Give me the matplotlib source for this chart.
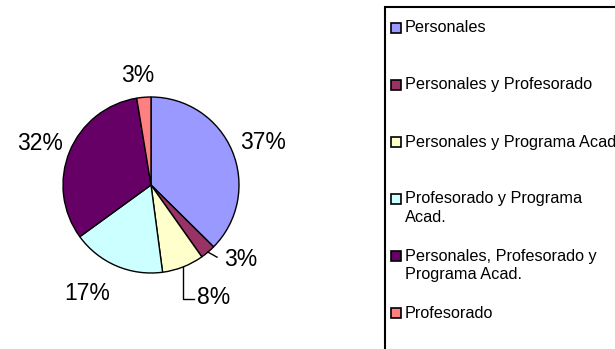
import numpy as np
import matplotlib.pyplot as plt
from matplotlib.patches import Rectangle

plt.rcParams['font.family'] = ['Liberation Sans', 'DejaVu Sans']

categorias = ['Personales', 'Personales y Profesorado', 'Personales y Programa Acad.',
              'Profesorado y Programa Acad.', 'Personales, Profesorado y Programa Acad.',
              'Profesorado']
# texto de la leyenda, con los saltos de linea de Excel
leyenda = ['Personales', 'Personales y Profesorado', 'Personales y Programa Acad.',
           'Profesorado y Programa\nAcad.', 'Personales, Profesorado y\nPrograma Acad.',
           'Profesorado']
porcentajes = [37.4, 2.8, 7.7, 17.1, 32.4, 2.6]
colores = ['#9999FF', '#993366', '#FFFFCC', '#CCFFFF', '#660066', '#FF8080']

W, H = 615, 349
fig = plt.figure(figsize=(W / 100, H / 100), dpi=100)
ax = fig.add_axes([0, 0, 1, 1])

wedges, _ = ax.pie(porcentajes, colors=colores, startangle=90, counterclock=False,
                   radius=1.0, wedgeprops=dict(edgecolor='black', linewidth=1.0))

# radio 88 px, centro en (151, 185) px
R = 88.0
cx, cy = 151.0, 185.0
ax.set_xlim(-cx / R, (W - cx) / R)
ax.set_ylim(-(H - cy) / R, cy / R)
ax.set_aspect('equal')
ax.axis('off')

etiquetas = ['%d%%' % round(v) for v in porcentajes]
fs = 16.5

# posiciones de las etiquetas (centradas)
ax.text(1.27, 0.48, etiquetas[0], fontsize=fs, ha='center', va='center')
ax.text(-0.72, -1.23, etiquetas[3], fontsize=fs, ha='center', va='center')
ax.text(-1.26, 0.47, etiquetas[4], fontsize=fs, ha='center', va='center')
ax.text(-0.15, 1.25, etiquetas[5], fontsize=fs, ha='center', va='center')

# etiquetas con linea guia para las porciones pequeñas
def medio(w):
    return np.deg2rad((w.theta1 + w.theta2) / 2)

a = medio(wedges[1])
ax.plot([np.cos(a), 0.75], [np.sin(a), -0.82], color='black', lw=1)
ax.text(0.83, -0.85, etiquetas[1], fontsize=fs, ha='left', va='center')

a = medio(wedges[2])
ax.plot([np.cos(a), np.cos(a), 0.49], [np.sin(a), -1.30, -1.30], color='black', lw=1)
ax.text(0.52, -1.28, etiquetas[2], fontsize=fs, ha='left', va='center')

# leyenda dibujada a mano, como en Excel
def fx(px):
    return px / W

def fy(py):
    return 1 - py / H

fig.patches.append(Rectangle((fx(385), fy(H + 20)), fx(700) - fx(385), fy(7) - fy(H + 20),
                             transform=fig.transFigure, facecolor='white',
                             edgecolor='black', linewidth=1.5, zorder=0))
for i, (txt, c) in enumerate(zip(leyenda, colores)):
    yc = 28 + 57 * i
    fig.patches.append(Rectangle((fx(391), fy(yc + 5)), fx(10), 10 / H,
                                 transform=fig.transFigure, facecolor=c,
                                 edgecolor='black', linewidth=1.2))
    for k, linea in enumerate(txt.split('\n')):
        fig.text(fx(405), fy(yc + 19 * k), linea, fontsize=11.7, ha='left', va='center')

fig.savefig('out.png', dpi=100)
